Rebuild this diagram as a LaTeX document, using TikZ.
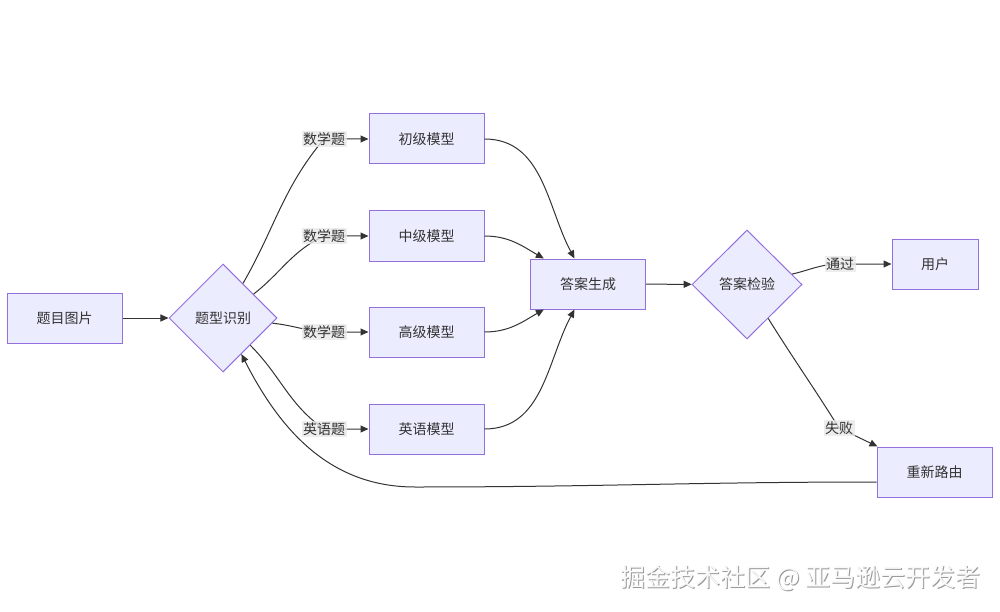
\documentclass[tikz,border=0pt]{standalone}
\usepackage{fontspec}
\setmainfont{Noto Sans CJK SC}
\usetikzlibrary{positioning,shapes.geometric,arrows.meta}
\definecolor{boxfill}{HTML}{ECECFF}
\definecolor{boxline}{HTML}{9370DB}
\definecolor{edgeline}{HTML}{333333}
\definecolor{lblfill}{HTML}{E8E8E8}
\tikzset{
  md/.style={rectangle, minimum width=115pt, minimum height=50pt, text centered, draw=boxline, fill=boxfill, line width=1pt, text=edgeline},
  dc/.style={diamond, minimum width=108pt, minimum height=108pt, inner sep=0pt, text centered, draw=boxline, fill=boxfill, line width=1pt, text=edgeline},
  lb/.style={fill=lblfill, fill opacity=0.8, text opacity=1, inner sep=1.5pt, text=edgeline},
  fl/.style={draw=edgeline, line width=1pt, ->},
  >={Triangle[length=8pt,width=7pt]}
}

\begin{document}
\begin{tikzpicture}[x=1pt, y=1pt, every node/.style={font=\fontsize{14}{17}\selectfont}]
	\useasboundingbox (0,0) rectangle (1000,-612);
	\node[md] (img) at (64.5,-318) {题目图片};
	\node[dc] (type) at (223,-318) {题型识别};
	\node[md] (basic) at (426.5,-139) {初级模型};
	\node[md] (mid) at (426.5,-236) {中级模型};
	\node[md] (adv) at (426.5,-332) {高级模型};
	\node[md] (eng) at (426.5,-429) {英语模型};
	\node[md] (gen) at (588,-284) {答案生成};
	\node[dc, minimum width=110pt, minimum height=109pt] (check) at (747,-284.5) {答案检验};
	\node[md, minimum width=86pt] (user) at (935,-264) {用户};
	\node[md] (reroute) at (934.5,-472) {重新路由};
	\coordinate (loopbend) at (415,-487);
		%
	\draw[fl] (img) -- (type);
	\draw[fl] (type) to[out=60,in=-130] (324,-139) node[lb] (lbasic) {数学题} -- (basic);
	\draw[fl] (type) to[out=38,in=-155] (324,-236) node[lb] (lmid) {数学题} -- (mid);
	\draw[fl] (type) to[out=-6,in=175] (324,-332) node[lb] (ladv) {数学题} -- (adv);
	\draw[fl] (type) to[out=-45,in=145] (324,-429) node[lb] (leng) {英语题} -- (eng);
	\draw[fl] (basic) to[out=0,in=118] (gen);
	\draw[fl] (mid) to[out=0,in=150] (gen);
	\draw[fl] (adv) to[out=0,in=-150] (gen);
	\draw[fl] (eng) to[out=0,in=-118] (gen);
	\draw[fl] (gen) -- (check);
	\draw[fl] (check) to[out=13,in=180] (840,-264) node[lb] (lpass) {通过} -- (user);
	\draw[fl] (check) to[out=-58,in=122] (839,-428) node[lb] (lfail) {失败} -- ([xshift=1pt]reroute.north west);
	\draw[fl] ([yshift=-10pt]reroute.west) to[out=180,in=0] (loopbend) to[out=180,in=-63] (type);
		%
	\node[font=\fontsize{25}{29}\selectfont, text=gray!80] (wmshadow) at (801.5,-579.5) {掘金技术社区 @ 亚马逊云开发者};
	\node[font=\fontsize{25}{29}\selectfont, text=gray!5] (wm) at (800.5,-578.5) {掘金技术社区 @ 亚马逊云开发者};
\end{tikzpicture}
\end{document}
